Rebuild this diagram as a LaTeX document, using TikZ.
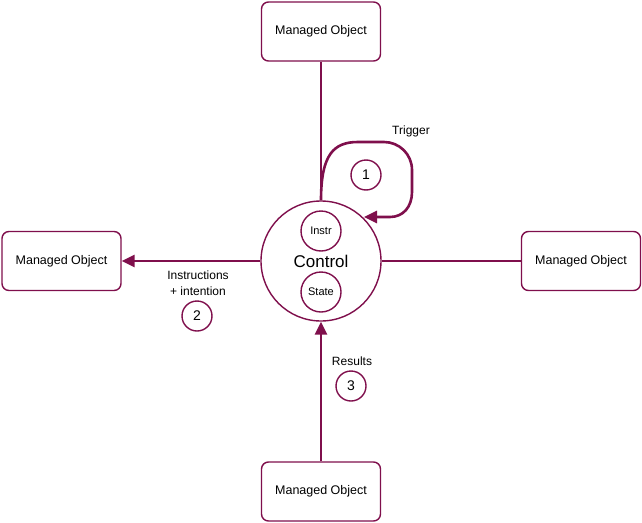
\documentclass[tikz,border=0pt]{standalone}
\usepackage{fontspec}
\setmainfont{Liberation Sans}
\usetikzlibrary{arrows.meta}
\definecolor{mr}{HTML}{7F0F4C}
\tikzset{
  mobox/.style={draw=mr, line width=1.4pt, rounded corners=7pt, fill=white,
    minimum width=119pt, minimum height=59pt, inner sep=0pt, font=\fontsize{12.5}{14}\selectfont},
  ctrlc/.style={draw=mr, line width=1.4pt, circle, minimum size=120pt, inner sep=0pt,
    font=\fontsize{17}{20}\selectfont},
  smallc/.style={draw=mr, line width=1.4pt, circle, minimum size=40pt, inner sep=0pt,
    font=\fontsize{11}{13}\selectfont},
  numc/.style={draw=mr, line width=1.4pt, circle, minimum size=30pt, inner sep=0pt,
    font=\fontsize{14}{16}\selectfont},
  lbl/.style={inner sep=0pt, align=center, font=\fontsize{12}{16}\selectfont},
  conn/.style={draw=mr, line width=2.6pt},
  tip/.style={-{Triangle[length=13pt,width=12pt]}}
}
\begin{document}
\begin{tikzpicture}[x=1pt,y=-1pt]
\useasboundingbox (0,0) rectangle (642,522);
\node[mobox] (top) at (321,31.5) {Managed Object};
\node[mobox] (left) at (61.5,261) {Managed Object};
\node[mobox] (right) at (581,261) {Managed Object};
\node[mobox] (bot) at (321,491.5) {Managed Object};
\node[ctrlc] (ctrl) at (321,261) {Control};
\node[smallc] (instr) at (321,231) {Instr};
\node[smallc] (state) at (321,292) {State};
\node[numc] (n1) at (366,175) {1};
\node[numc] (n2) at (197,316) {2};
\node[numc] (n3) at (351,386) {3};
\node[lbl] (trig) at (411,131) {Trigger};
\node[lbl] (instrl) at (198,283) {Instructions\\+ intention};
\node[lbl] (res) at (352,361) {Results};
\coordinate (loopend) at (364,217);
\path[conn] (top.south) -- (ctrl.north);
\path[conn] (ctrl.east) -- (right.west);
\path[conn,tip] (ctrl.west) -- (left.east);
\path[conn,tip] (bot.north) -- (ctrl.south);
\path[conn,tip] (ctrl.north) .. controls (321,154) and (334,142) .. (358,142)
  -- (384,142) .. controls (399,142) and (412,154) .. (412,170)
  -- (412,192) .. controls (412,207) and (403,217) .. (390,217) -- (loopend);
\end{tikzpicture}
\end{document}
